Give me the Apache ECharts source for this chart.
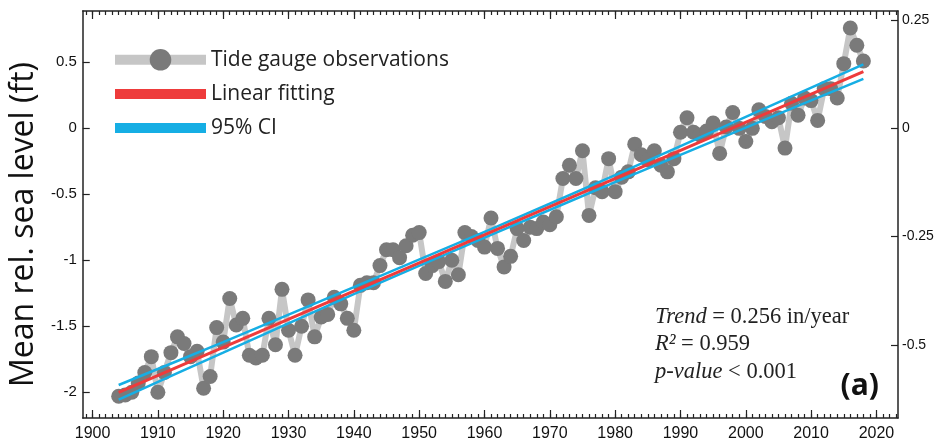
<!DOCTYPE html>
<html>
<head>
<meta charset="utf-8">
<script src="https://cdn.jsdelivr.net/npm/echarts@6/dist/echarts.min.js"></script>
<style>html,body{margin:0;padding:0;background:#fff;}#c{width:940px;height:445px;}</style>
</head>
<body>
<div id="c"></div>
<script>
const years = [];
for (let y = 1904; y <= 2018; y++) years.push(y);
const seaLevel = [
  -2.03, -2.02, -2.00, -1.93, -1.85, -1.73, -2.00, -1.85, -1.70, -1.58,
  -1.63, -1.73, -1.69, -1.97, -1.88, -1.51, -1.62, -1.29, -1.49, -1.44,
  -1.72, -1.74, -1.72, -1.44, -1.64, -1.22, -1.53, -1.72, -1.50, -1.30,
  -1.58, -1.43, -1.41, -1.28, -1.33, -1.44, -1.53, -1.19, -1.17, -1.17,
  -1.04, -0.92, -0.92, -0.98, -0.89, -0.81, -0.79, -1.10, -1.04, -1.01,
  -1.16, -1.00, -1.11, -0.79, -0.82, -0.85, -0.90, -0.68, -0.91, -1.05,
  -0.97, -0.76, -0.85, -0.75, -0.76, -0.71, -0.73, -0.67, -0.38, -0.28,
  -0.38, -0.17, -0.66, -0.45, -0.48, -0.23, -0.48, -0.37, -0.33, -0.12,
  -0.20, -0.24, -0.17, -0.28, -0.33, -0.23, -0.03, 0.08, -0.03, -0.05,
  -0.02, 0.04, -0.19, 0.01, 0.12, 0.00, -0.10, 0.00, 0.14, 0.09,
  0.05, 0.08, -0.15, 0.19, 0.10, 0.23, 0.21, 0.06, 0.30, 0.30,
  0.23, 0.49, 0.76, 0.63, 0.51
];
const fitYears = [1904, 2018];
const fitValues = [-2.00, 0.43];
const ciYears = [1904, 1920, 1940, 1961, 1980, 2000, 2018];
const ciUpper = [-1.945, -1.62, -1.203, -0.764, -0.354, 0.086, 0.485];
const ciLower = [-2.055, -1.70, -1.257, -0.808, -0.408, 0.006, 0.375];
const xMajorTicks = [1900, 1910, 1920, 1930, 1940, 1950, 1960, 1970, 1980, 1990, 2000, 2010, 2020];
const xMinorTicks = [];
for (let y = 1899; y <= 2023; y++) xMinorTicks.push(y);
const ftTicks = [-2, -1.5, -1, -0.5, 0, 0.5];
const mTicks = [-0.5, -0.25, 0, 0.25];
const FT_MIN = -2.195, FT_MAX = 0.889;
const FT_TO_M = 0.3048;

const zip = (a, b) => a.map((v, i) => [v, b[i]]);
const axisColor = '#222';
const tickFont = 'Liberation Sans, Arial, sans-serif';

function xAx(pos, ticks, len, showLine, showLabel) {
  return {
    type: 'value', position: pos, min: 1898.5, max: 2023.3,
    axisLine: { show: showLine, onZero: false, lineStyle: { color: axisColor, width: 1.5 } },
    axisTick: { show: true, inside: true, length: len, customValues: ticks, lineStyle: { color: axisColor, width: 1.2 } },
    axisLabel: { show: showLabel, customValues: ticks, fontSize: 16, color: '#111', fontFamily: tickFont, margin: 8,
      formatter: v => String(v) },
    splitLine: { show: false }
  };
}

const chart = echarts.init(document.getElementById('c'));
chart.setOption({
  animation: false,
  backgroundColor: '#fff',
  grid: { left: 82, right: 42, top: 11, bottom: 27 },
  xAxis: [
    xAx('bottom', xMajorTicks, 8, true, true),
    xAx('bottom', xMinorTicks, 4, false, false),
    xAx('top', xMajorTicks, 8, true, false),
    xAx('top', xMinorTicks, 4, false, false)
  ],
  yAxis: [
    {
      type: 'value', position: 'left', min: FT_MIN, max: FT_MAX,
      name: 'Mean rel. sea level (ft)', nameLocation: 'middle', nameGap: 40,
      nameTextStyle: { fontSize: 32, fontFamily: 'Open Sans, sans-serif', color: '#111', padding: [0, 20, 0, 0] },
      axisLine: { show: true, onZero: false, lineStyle: { color: axisColor, width: 1.5 } },
      axisTick: { show: true, inside: true, length: 7, customValues: ftTicks, lineStyle: { color: axisColor, width: 1.2 } },
      axisLabel: { customValues: ftTicks, fontSize: 15, color: '#111', fontFamily: tickFont, margin: 6,
        formatter: v => String(v) },
      splitLine: { show: false }
    },
    {
      type: 'value', position: 'right', min: FT_MIN * FT_TO_M, max: FT_MAX * FT_TO_M,
      axisLine: { show: true, onZero: false, lineStyle: { color: axisColor, width: 1.5 } },
      axisTick: { show: true, inside: true, length: 7, customValues: mTicks, lineStyle: { color: axisColor, width: 1.2 } },
      axisLabel: { customValues: mTicks, fontSize: 14, color: '#111', fontFamily: tickFont, margin: 4,
        formatter: v => String(v) },
      splitLine: { show: false }
    }
  ],
  legend: {
    orient: 'vertical', left: 110, top: 49, padding: 0, itemWidth: 91, itemHeight: 27, itemGap: 13,
    textStyle: { fontSize: 21, fontFamily: 'Open Sans, sans-serif', color: '#222' },
    data: [
      { name: 'Tide gauge observations', lineStyle: { width: 10 } },
      { name: 'Linear fitting', icon: 'path://M0,0H91V10H0Z' },
      { name: '95% CI', icon: 'path://M0,0H91V10H0Z' }
    ],
    selectedMode: false
  },
  series: [
    {
      name: 'Tide gauge observations', type: 'line', xAxisIndex: 0, yAxisIndex: 0,
      data: zip(years, seaLevel), symbol: 'circle', symbolSize: 15, showSymbol: true,
      lineStyle: { color: '#c6c6c6', width: 6 },
      itemStyle: { color: '#7a7a7a' }, z: 2
    },
    {
      name: 'Linear fitting', type: 'line', xAxisIndex: 0, yAxisIndex: 0,
      data: zip(fitYears, fitValues), symbol: 'none', color: '#ee3b3b',
      lineStyle: { color: '#ee3b3b', width: 3 }, itemStyle: { color: '#ee3b3b' }, z: 4
    },
    {
      name: '95% CI', type: 'line', xAxisIndex: 0, yAxisIndex: 0, smooth: 0.3,
      data: zip(ciYears, ciUpper), symbol: 'none', color: '#16aee4',
      lineStyle: { color: '#16aee4', width: 2.5 }, itemStyle: { color: '#16aee4' }, z: 3
    },
    {
      name: '95% CI', type: 'line', xAxisIndex: 0, yAxisIndex: 0, smooth: 0.3,
      data: zip(ciYears, ciLower), symbol: 'none', color: '#16aee4',
      lineStyle: { color: '#16aee4', width: 2.5 }, itemStyle: { color: '#16aee4' }, z: 3
    }
  ],
  graphic: [
    {
      type: 'text', left: 655, top: 303, z: 10,
      style: {
        text: '{i|Trend} = 0.256 in/year\n{i|R²} = 0.959\n{i|p-value} < 0.001',
        fontFamily: 'Liberation Serif, Times New Roman, serif', fontSize: 22.5, fill: '#222', lineHeight: 27.5,
        rich: { i: { fontStyle: 'italic', fontFamily: 'Liberation Serif, Times New Roman, serif', fontSize: 22.5, lineHeight: 27.5 } }
      }
    },
    {
      type: 'text', z: 10,
      style: {
        text: '(a)', x: 879, y: 386, align: 'right', verticalAlign: 'middle',
        fontFamily: 'Open Sans, sans-serif', fontWeight: 'bold', fontSize: 30, fill: '#111'
      }
    }
  ]
});
</script>
</body>
</html>
